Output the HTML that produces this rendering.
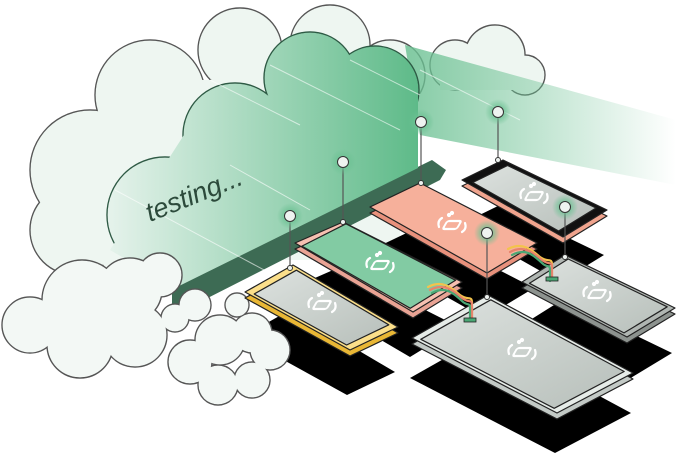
<!DOCTYPE html><html><head><style>html,body{margin:0;padding:0;background:#fff}svg{display:block}</style></head><body>
<svg width="676" height="453" viewBox="0 0 676 453" xmlns="http://www.w3.org/2000/svg">
<defs>
<linearGradient id="gc" x1="100" y1="0" x2="420" y2="0" gradientUnits="userSpaceOnUse"><stop offset="0" stop-color="#e9f4ee"/><stop offset="1" stop-color="#5dba88"/></linearGradient>
<linearGradient id="tr" x1="400" y1="0" x2="676" y2="0" gradientUnits="userSpaceOnUse"><stop offset="0" stop-color="#6cc193" stop-opacity=".85"/><stop offset="1" stop-color="#6cc193" stop-opacity="0"/></linearGradient>
<linearGradient id="scr" x1="0" y1="0" x2="1" y2="1"><stop offset="0" stop-color="#dde2df"/><stop offset="1" stop-color="#b7bfba"/></linearGradient>
<radialGradient id="glow"><stop offset=".4" stop-color="#6cc193" stop-opacity=".8"/><stop offset="1" stop-color="#6cc193" stop-opacity="0"/></radialGradient>
<g id="ic" fill="none" stroke="#fff" stroke-width="2.2" stroke-linecap="round"><rect x="-7" y="-4" width="14" height="8" rx="2" transform="skewX(-30)"/><path d="M-13 2 q-2 -6 3 -9 M13 -2 q2 6 -3 9"/><circle cx="-3" cy="-10" r="1" fill="#fff"/><circle cx="0" cy="-12" r="1" fill="#fff"/></g>
</defs>
<!-- back cloud -->
<g stroke="#555" stroke-width="1.4">
<circle cx="150" cy="95" r="55"/><circle cx="240" cy="50" r="42"/><circle cx="330" cy="45" r="40"/><circle cx="390" cy="75" r="35"/><circle cx="90" cy="170" r="60"/><circle cx="75" cy="230" r="45"/><circle cx="140" cy="240" r="45"/>
<circle cx="455" cy="65" r="25"/><circle cx="495" cy="55" r="30"/><circle cx="525" cy="75" r="20"/></g>
<g fill="#eef6f1">
<circle cx="150" cy="95" r="54.4"/><circle cx="240" cy="50" r="41.4"/><circle cx="330" cy="45" r="39.4"/><circle cx="390" cy="75" r="34.4"/><circle cx="90" cy="170" r="59.4"/><circle cx="75" cy="230" r="44.4"/><circle cx="140" cy="240" r="44.4"/>
<circle cx="455" cy="65" r="24.4"/><circle cx="495" cy="55" r="29.4"/><circle cx="525" cy="75" r="19.4"/>
<rect x="140" y="80" width="260" height="180"/><rect x="440" y="60" width="80" height="30"/></g>
<!-- trail -->
<polygon points="405,45 676,120 676,185 420,135" fill="url(#tr)"/>
<!-- dark shadow strip -->
<polygon points="172,287 432,160 446,170 440,180 188,308 172,305" fill="#3d6b54"/>
<!-- green cloud -->
<g stroke="#2d5a44" stroke-width="1.4"><circle cx="310" cy="78" r="46"/><circle cx="375" cy="90" r="44"/><circle cx="235" cy="135" r="52"/><circle cx="165" cy="215" r="58"/></g>
<g fill="url(#gc)"><circle cx="310" cy="78" r="45.4"/><circle cx="375" cy="90" r="43.4"/><circle cx="235" cy="135" r="51.4"/><circle cx="165" cy="215" r="57.4"/>
<polygon points="200,110 418,95 418,168 175,288 110,250"/></g>
<g stroke="#fff" stroke-opacity=".6" stroke-width="1"><line x1="210" y1="80" x2="300" y2="125"/><line x1="270" y1="65" x2="400" y2="130"/><line x1="350" y1="60" x2="420" y2="95"/><line x1="420" y1="70" x2="520" y2="120"/><line x1="115" y1="190" x2="320" y2="300"/><line x1="230" y1="165" x2="310" y2="210"/></g>
<text x="0" y="0" transform="translate(150,222) rotate(-22)" font-family="Liberation Sans, sans-serif" font-style="italic" font-size="27" fill="#2c4a3b">testing...</text>
<!-- shadows -->
<g fill="#000">
<polygon points="242,337 290,310 395,372 347,395"/>
<polygon points="292,288 340,267 459,327 410,357"/>
<polygon points="367,252 417,228 534,288 484,318"/>
<polygon points="459,225 500,205 604,255 560,282"/>
<polygon points="519,327 562,300 672,353 624,382"/>
<polygon points="410,378 486,335 631,413 555,453"/>
</g>
<!-- bottom clouds -->
<g stroke="#555" stroke-width="1.4">
<circle cx="30" cy="325" r="28"/><circle cx="82" cy="300" r="40"/><circle cx="130" cy="290" r="32"/><circle cx="160" cy="275" r="22"/><circle cx="80" cy="345" r="33"/><circle cx="135" cy="335" r="32"/><circle cx="195" cy="305" r="16"/><circle cx="237" cy="305" r="12"/><circle cx="175" cy="318" r="14"/>
<circle cx="190" cy="362" r="22"/><circle cx="220" cy="340" r="25"/><circle cx="252" cy="333" r="20"/><circle cx="270" cy="350" r="20"/><circle cx="218" cy="385" r="20"/><circle cx="252" cy="380" r="18"/></g>
<g fill="#f3f8f5">
<circle cx="30" cy="325" r="27.4"/><circle cx="82" cy="300" r="39.4"/><circle cx="130" cy="290" r="31.4"/><circle cx="160" cy="275" r="21.4"/><circle cx="80" cy="345" r="32.4"/><circle cx="135" cy="335" r="31.4"/><circle cx="195" cy="305" r="15.4"/><circle cx="237" cy="305" r="11.4"/><circle cx="175" cy="318" r="13.4"/>
<circle cx="190" cy="362" r="21.4"/><circle cx="220" cy="340" r="24.4"/><circle cx="252" cy="333" r="19.4"/><circle cx="270" cy="350" r="19.4"/><circle cx="218" cy="385" r="19.4"/><circle cx="252" cy="380" r="17.4"/></g>
<!-- devices -->
<g stroke="#222" stroke-width="1.2" stroke-linejoin="round">
<polygon points="462,186 503,166 607,216 563,243" fill="#f0a48e"/>
<polygon points="462,180 503,160 607,210 563,237" fill="#111"/>
<polygon points="472.8,182.5 507.6,165.5 596,208 558.6,231" fill="url(#scr)"/>
<polygon points="370,213 420,189 537,249 487,279" fill="#e8917c"/>
<polygon points="370,207 420,183 537,243 487,273" fill="#f6b09b"/>
<polygon points="522,288 565,261 675,314 627,343" fill="#8d938f"/>
<polygon points="522,282 565,255 675,308 627,337" fill="#b0b6b2"/>
<polygon points="529.5,283.3 568.2,259 667.2,306.8 624,332.9" fill="url(#scr)"/>
<polygon points="295,249 343,228 462,288 413,318" fill="#e9a394"/>
<polygon points="295,243 343,222 462,282 413,312" fill="#f6c0b1"/>
<polygon points="301.9,246.1 346,223.8 455.6,280.3 410.3,308.3" fill="#82cba3"/>
<polygon points="412,344 488,301 633,379 557,419" fill="#c3cac6"/>
<polygon points="412,338 488,295 633,373 557,413" fill="#e6ece8"/>
<polygon points="420.8,339.3 490.8,299.8 624.2,371.5 554.2,408.3" fill="url(#scr)"/>
<polygon points="245,298 293,271 398,333 350,356" fill="#e9b735"/>
<polygon points="245,292 293,265 398,327 350,350" fill="#fbdf8a"/>
<polygon points="254.2,294 296.4,270.2 388.8,324.8 346.6,345" fill="url(#scr)"/>
</g>
<!-- cables -->
<g fill="none" stroke-width="2.2" stroke-linecap="round">
<path d="M428 287 c15-8 25 2 32 8 c8 6 12 0 12 8 l0 16" stroke="#f3c34c"/>
<path d="M430 290 c15-8 25 2 32 8 c8 6 10 0 10 8 l0 14" stroke="#e8836b"/>
<path d="M432 293 c15-8 23 2 30 8 c6 6 8 0 8 8 l0 12" stroke="#4aa774"/>
<path d="M508 249 c15-8 25 2 32 8 c8 6 12 0 12 8 l0 14" stroke="#f3c34c"/>
<path d="M510 252 c15-8 25 2 32 8 c8 6 10 0 10 8 l0 12" stroke="#e8836b"/>
<path d="M512 255 c15-8 23 2 30 8 c6 6 8 0 8 8 l0 10" stroke="#4aa774"/>
</g>
<rect x="464" y="318" width="12" height="4" fill="#4aa774" stroke="#222" stroke-width=".8"/>
<rect x="546" y="277" width="12" height="4" fill="#4aa774" stroke="#222" stroke-width=".8"/>
<use href="#ic" x="322" y="305"/><use href="#ic" x="380" y="265"/><use href="#ic" x="452" y="225"/><use href="#ic" x="534" y="196"/><use href="#ic" x="597" y="294"/><use href="#ic" x="522" y="352"/>
<g stroke="#555" stroke-width="1.2">
<line x1="290" y1="222" x2="290" y2="268"/><line x1="343" y1="168" x2="343" y2="222"/><line x1="421" y1="128" x2="421" y2="183"/><line x1="498" y1="118" x2="498" y2="160"/><line x1="487" y1="239" x2="487" y2="297"/><line x1="565" y1="213" x2="565" y2="257"/></g>
<g><circle cx="290" cy="216" r="13" fill="url(#glow)"/><circle cx="343" cy="162" r="13" fill="url(#glow)"/><circle cx="421" cy="122" r="13" fill="url(#glow)"/><circle cx="498" cy="112" r="13" fill="url(#glow)"/><circle cx="487" cy="233" r="13" fill="url(#glow)"/><circle cx="565" cy="207" r="13" fill="url(#glow)"/></g>
<g fill="#eef3f0" stroke="#333" stroke-width="1"><circle cx="290" cy="216" r="5.5"/><circle cx="343" cy="162" r="5.5"/><circle cx="421" cy="122" r="5.5"/><circle cx="498" cy="112" r="5.5"/><circle cx="487" cy="233" r="5.5"/><circle cx="565" cy="207" r="5.5"/>
<circle cx="290" cy="268" r="2.5"/><circle cx="343" cy="222" r="2.5"/><circle cx="421" cy="183" r="2.5"/><circle cx="498" cy="160" r="2.5"/><circle cx="487" cy="297" r="2.5"/><circle cx="565" cy="257" r="2.5"/></g>
</svg>
</body></html>
